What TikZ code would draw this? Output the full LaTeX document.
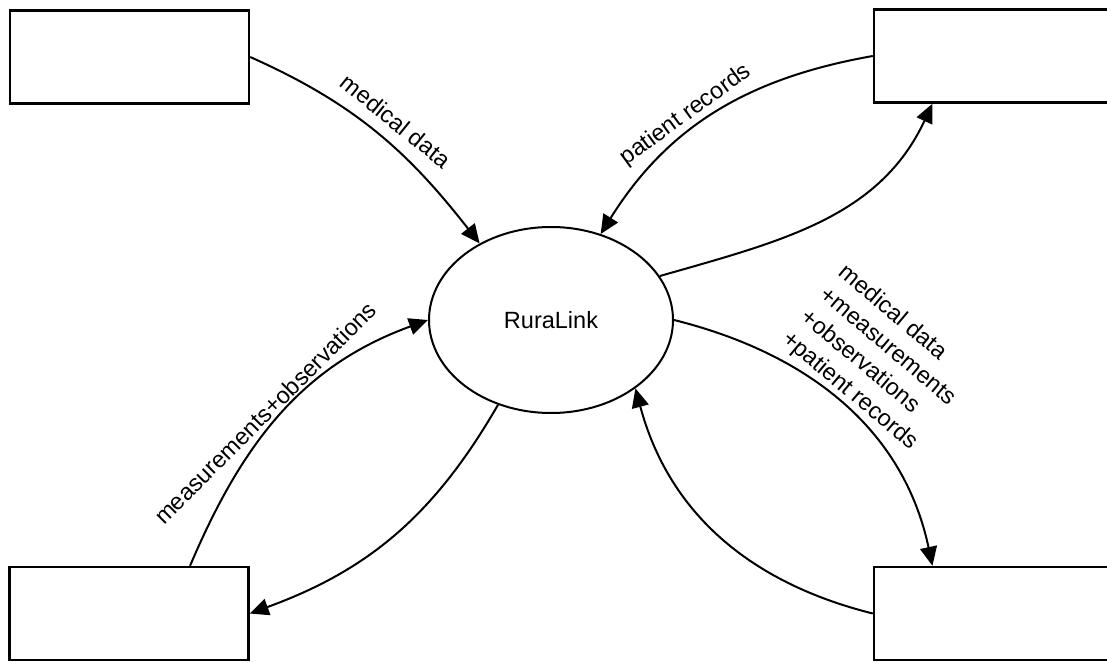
\documentclass[tikz,border=0pt]{standalone}
\usepackage{fontspec}
\setmainfont{Liberation Sans}
\usepackage{tikz}
\usetikzlibrary{arrows.meta}
\usetikzlibrary{positioning,shapes,fit}

\begin{document}
\begin{tikzpicture}[%
        x=1pt, y=1pt,
        every node/.style={font=\fontsize{23.5}{29}\selectfont, inner sep=0pt},
        entity/.style={draw, rectangle, line width=2.4pt, minimum width=239pt, minimum height=93pt},
        process/.style={draw, ellipse, line width=2pt, minimum width=244pt, minimum height=186pt},
        flow/.style={line width=2pt, -{Triangle[length=19pt,width=17pt]}},
        flowlabel/.style={align=left}
      ]
      \useasboundingbox (0,0) rectangle (1107,662);
      \clip (0,0) rectangle (1107,662);
      \node [entity] (tl) at (129.5,605) {};
      \node [entity] (tr) at (993.5,606) {};
      \node [entity] (bl) at (129,48.5) {};
      \node [entity] (br) at (993.5,48.5) {};
      \node [process] (rl) at (551,342) {RuraLink};
      \draw [flow] (tl.east) to[out=-24, in=128] (rl.133);
      \draw [flow] (tr.west) to[out=190, in=58] (rl.60);
      \draw [flow] (rl.22) to[out=16, in=245] (tr.218);
      \draw [flow] (rl.east) to[out=-14, in=102] (br.142);
      \draw [flow] (br.west) to[out=166, in=-75] (rl.-39);
      \draw [flow] (rl.238) to[out=240, in=20] (bl.east);
      \draw [flow] (bl.38) to[out=67, in=200] (rl.west);
      \node [flowlabel] (l1) at (396,541) [rotate=-39] {medical data};
      \node [flowlabel] (l2) at (686,547) [rotate=36] {patient records};
      \node [flowlabel] (l3) at (265,249) [rotate=45] {measurements+observations};
      \node [flowlabel] (l4) at (878,304) [rotate=-40] {medical data\\+measurements\\+observations\\+patient records};
    \end{tikzpicture}
\end{document}
